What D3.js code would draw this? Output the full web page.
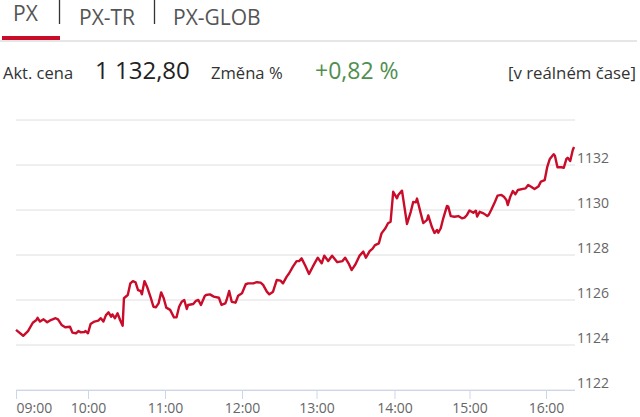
<!DOCTYPE html>
<html>
<head>
<meta charset="utf-8">
<script src="https://cdn.jsdelivr.net/npm/d3@7/dist/d3.min.js"></script>
<style>
  html, body { margin: 0; padding: 0; background: #fff; }
  svg { display: block; font-family: "Open Sans", "Noto Sans", sans-serif; }
</style>
</head>
<body>
<svg id="chart" width="640" height="417"></svg>
<script>
// ---------- data ----------
const tabs = ["PX", "PX-TR", "PX-GLOB"];
const priceLabel = "Akt. cena";
const priceText = "1 132,80";
const changeLabel = "Změna %";
const changeText = "+0,82 %";
const realtimeText = "[v reálném čase]";

const hourTicks = ["09:00","10:00","11:00","12:00","13:00","14:00","15:00","16:00"];
const yTicks = [1122, 1124, 1126, 1128, 1130, 1132, 1134];
const yLabelTicks = [1122, 1124, 1126, 1128, 1130, 1132];

const times = [
  "09:00","09:06","09:10","09:14","09:17","09:18","09:20","09:23","09:26","09:29",
  "09:33","09:35","09:38","09:41","09:45","09:47","09:50","09:52","09:54","09:57",
  "09:58","10:00","10:02","10:05","10:08","10:10","10:12","10:14","10:16","10:18",
  "10:19","10:21","10:23","10:25","10:27","10:28","10:31","10:33","10:35","10:37",
  "10:39","10:41","10:42","10:44","10:46","10:49","10:51","10:53","10:55","10:57",
  "10:59","11:01","11:04","11:07","11:09","11:11","11:13","11:15","11:17","11:18",
  "11:22","11:24","11:26","11:28","11:31","11:32","11:35","11:38","11:42","11:44",
  "11:47","11:48","11:50","11:52","11:55","11:57","12:00","12:03","12:05","12:09",
  "12:12","12:15","12:17","12:20","12:22","12:25","12:28","12:31","12:33","12:36",
  "12:38","12:41","12:44","12:46","12:48","12:51","12:54","12:57","12:59","13:01",
  "13:04","13:06","13:09","13:12","13:16","13:20","13:22","13:25","13:27","13:30",
  "13:33","13:36","13:38","13:41","13:43","13:45","13:48","13:50","13:53","13:55",
  "13:57","13:59","14:02","14:03","14:06","14:10","14:13","14:15","14:17","14:18",
  "14:21","14:23","14:26","14:27","14:30","14:32","14:34","14:35","14:37","14:39",
  "14:42","14:43","14:45","14:48","14:51","14:54","14:56","14:58","15:00","15:03",
  "15:05","15:06","15:08","15:11","15:14","15:15","15:17","15:20","15:22","15:25",
  "15:27","15:29","15:30","15:32","15:34","15:36","15:38","15:41","15:44","15:46",
  "15:48","15:51","15:54","15:56","15:59","16:01","16:03","16:06","16:07","16:09",
  "16:12","16:14","16:16","16:17","16:19","16:21","16:22"
];
const values = [
  1124.67,1124.41,1124.62,1124.99,1125.11,1125.21,1125.04,1125.14,1125.01,1125.11,
  1125.19,1125.14,1124.89,1124.79,1124.81,1124.55,1124.52,1124.62,1124.56,1124.58,
  1124.62,1124.52,1124.93,1125.04,1125.08,1125.19,1125.04,1125.33,1125.45,1125.26,
  1125.36,1125.19,1125.41,1125.11,1124.86,1126.08,1126.22,1126.74,1126.84,1126.79,
  1126.44,1126.40,1126.25,1126.84,1126.59,1126.08,1125.70,1125.68,1125.85,1126.34,
  1126.08,1125.66,1125.56,1125.23,1125.23,1125.70,1125.92,1126.00,1125.60,1125.78,
  1125.82,1125.96,1126.00,1125.78,1126.18,1126.22,1126.25,1126.15,1126.10,1125.78,
  1125.85,1126.00,1126.40,1125.92,1125.88,1126.19,1126.30,1126.70,1126.74,1126.74,
  1126.79,1126.77,1126.67,1126.37,1126.25,1126.37,1126.89,1126.86,1126.74,1127.04,
  1127.19,1127.48,1127.73,1127.73,1127.85,1127.52,1127.16,1127.48,1127.68,1127.88,
  1127.63,1127.97,1127.73,1127.97,1127.68,1127.73,1127.88,1127.59,1127.33,1127.59,
  1127.96,1128.15,1127.88,1128.18,1128.27,1128.44,1128.52,1128.96,1129.19,1129.41,
  1129.48,1130.81,1130.52,1130.67,1130.86,1129.38,1129.92,1130.36,1130.34,1130.51,
  1129.85,1129.42,1129.56,1129.76,1129.23,1128.98,1129.11,1128.99,1129.19,1129.63,
  1130.18,1130.15,1129.73,1129.70,1129.73,1129.63,1129.66,1129.78,1129.98,1129.88,
  1129.97,1129.71,1129.92,1129.85,1129.73,1129.78,1130.00,1130.37,1130.64,1130.67,
  1130.59,1130.44,1130.22,1130.59,1130.84,1130.70,1130.89,1130.93,1130.96,1131.11,
  1131.04,1130.93,1131.04,1131.26,1131.33,1131.92,1132.27,1132.48,1132.41,1131.90,
  1131.90,1131.88,1132.27,1132.32,1132.18,1132.67,1132.80
];

// ---------- layout ----------
const W = 640, H = 417;
const plotLeft = 16, plotRight = 575, plotTop = 120, plotBottom = 390;
// ordinal-like axis: pixel position of each hour tick (trading-time compression)
const hourPx = [16, 88, 165, 242, 316.5, 394.5, 469.5, 546];
const red = "#c90c2a";

const parse = d3.timeParse("%H:%M");
const data = times.map((t, i) => ({ t: parse(t), v: values[i] }));
const hourDates = hourTicks.map(parse);

const svg = d3.select("#chart");

// ---------- header ----------
const tabX = [13, 79, 173];
const tabY = [21, 24.5, 24.5];
svg.selectAll("text.tab").data(tabs).join("text")
  .attr("class", "tab")
  .attr("x", (d, i) => tabX[i]).attr("y", (d, i) => tabY[i])
  .attr("font-size", 21).attr("fill", "#555")
  .text(d => d);
svg.selectAll("line.sep").data([59.5, 154.5]).join("line")
  .attr("class", "sep")
  .attr("x1", d => d).attr("x2", d => d)
  .attr("y1", 0).attr("y2", 24)
  .attr("stroke", "#333").attr("stroke-width", 1.3);
svg.append("line")
  .attr("x1", 0).attr("x2", 637).attr("y1", 41).attr("y2", 41)
  .attr("stroke", "#e6e6e6").attr("stroke-width", 2);
svg.append("rect")
  .attr("x", 2).attr("y", 36).attr("width", 58).attr("height", 4)
  .attr("fill", red);

const rowY = 79;
svg.append("text").attr("x", 3).attr("y", rowY)
  .attr("font-size", 16.5).attr("fill", "#333").text(priceLabel);
svg.append("text").attr("x", 95).attr("y", rowY)
  .attr("font-size", 24).attr("fill", "#222").text(priceText);
svg.append("text").attr("x", 211).attr("y", rowY)
  .attr("font-size", 16.6).attr("fill", "#333").text(changeLabel);
svg.append("text").attr("x", 315).attr("y", rowY)
  .attr("font-size", 23).attr("fill", "#4f8f4f").text(changeText);
svg.append("text").attr("x", 636).attr("y", rowY).attr("text-anchor", "end")
  .attr("font-size", 16.8).attr("fill", "#333").text(realtimeText);

// ---------- scales ----------
const x = d3.scaleTime().domain(hourDates).range(hourPx);
const y = d3.scaleLinear().domain([1122, 1134]).range([plotBottom, plotTop]);

// gridlines
svg.append("g").selectAll("line").data(yTicks).join("line")
  .attr("x1", plotLeft).attr("x2", plotRight)
  .attr("y1", d => y(d)).attr("y2", d => y(d))
  .attr("stroke", "#dedede").attr("stroke-width", 1);

// y labels (right side, above gridline)
svg.append("g").selectAll("text").data(yLabelTicks).join("text")
  .attr("x", 577).attr("y", d => y(d) - 2)
  .attr("font-size", 14).attr("fill", "#666")
  .text(d => d);

// x axis
const xAxis = d3.axisBottom(x)
  .tickValues(hourDates)
  .tickFormat(d3.timeFormat("%H:%M"))
  .tickSize(9).tickPadding(4);
const gx = svg.append("g").attr("transform", `translate(0,${plotBottom})`).call(xAxis);
gx.select(".domain").remove();
gx.selectAll(".tick line").attr("stroke", "#ccd6eb");
gx.selectAll(".tick text")
  .attr("font-family", "\"Open Sans\", sans-serif")
  .attr("font-size", 14).attr("fill", "#666")
  .attr("text-anchor", (d, i) => i === 0 ? "start" : "middle");
svg.append("line")
  .attr("x1", plotLeft).attr("x2", plotRight)
  .attr("y1", plotBottom + 0.5).attr("y2", plotBottom + 0.5)
  .attr("stroke", "#ccd6eb").attr("stroke-width", 1);

// price line
const line = d3.line().x(d => x(d.t)).y(d => y(d.v));
svg.append("path").datum(data)
  .attr("d", line)
  .attr("fill", "none")
  .attr("stroke", red)
  .attr("stroke-width", 2.4)
  .attr("stroke-linejoin", "round");
</script>
</body>
</html>
